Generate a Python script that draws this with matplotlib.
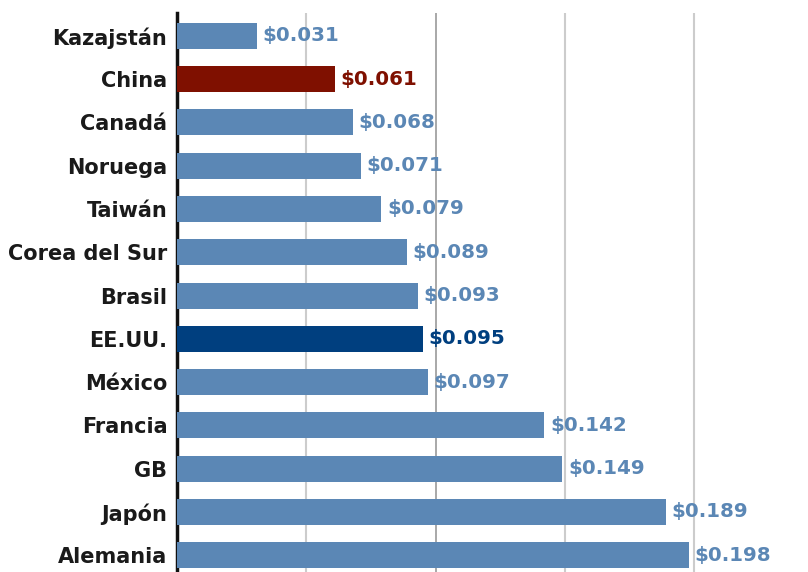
import matplotlib.pyplot as plt

# datos
paises = ["Kazajstán", "China", "Canadá", "Noruega", "Taiwán", "Corea del Sur",
          "Brasil", "EE.UU.", "México", "Francia", "GB", "Japón", "Alemania"]
precios = [0.031, 0.061, 0.068, 0.071, 0.079, 0.089,
           0.093, 0.095, 0.097, 0.142, 0.149, 0.189, 0.198]
etiquetas = ["$0.031", "$0.061", "$0.068", "$0.071", "$0.079", "$0.089",
             "$0.093", "$0.095", "$0.097", "$0.142", "$0.149", "$0.189", "$0.198"]

azul = "#5b87b5"
colores = {"China": "#7f1000", "EE.UU.": "#003f7f"}

plt.rcParams['font.family'] = ['DejaVu Sans']

fig = plt.figure(figsize=(8.08, 5.72), dpi=100)
ax = fig.add_axes([177 / 808, 0, 1 - 177 / 808, (572 - 13) / 572])

cols = [colores.get(p, azul) for p in paises]
y = list(range(len(paises)))
ax.barh(y, precios, height=0.6, color=cols, zorder=3)

for yi, v, lab, c in zip(y, precios, etiquetas, cols):
    ax.text(v + 0.0022, yi, lab, va='center', ha='left', color=c,
            fontsize=14.3, fontweight='bold', zorder=4)

ax.set_yticks(y)
ax.set_yticklabels(paises, fontsize=15, fontweight='bold', color='#1a1a1a')
ax.tick_params(axis='y', length=0, pad=7)
ax.set_ylim(12.39, -0.53)

ax.set_xlim(0, 0.244)
ax.set_xticks([0.05, 0.1, 0.15, 0.2])
ax.tick_params(axis='x', length=0, labelbottom=False)
ax.grid(axis='x', color='#cccccc', linewidth=1.5, zorder=0)
ax.get_xgridlines()[1].set_color('#999999')
ax.get_xgridlines()[1].set_linewidth(1.2)

for s in ['top', 'right', 'bottom']:
    ax.spines[s].set_visible(False)
ax.spines['left'].set_linewidth(2.5)
ax.spines['left'].set_color('#111111')

fig.savefig("out.png", dpi=100)
